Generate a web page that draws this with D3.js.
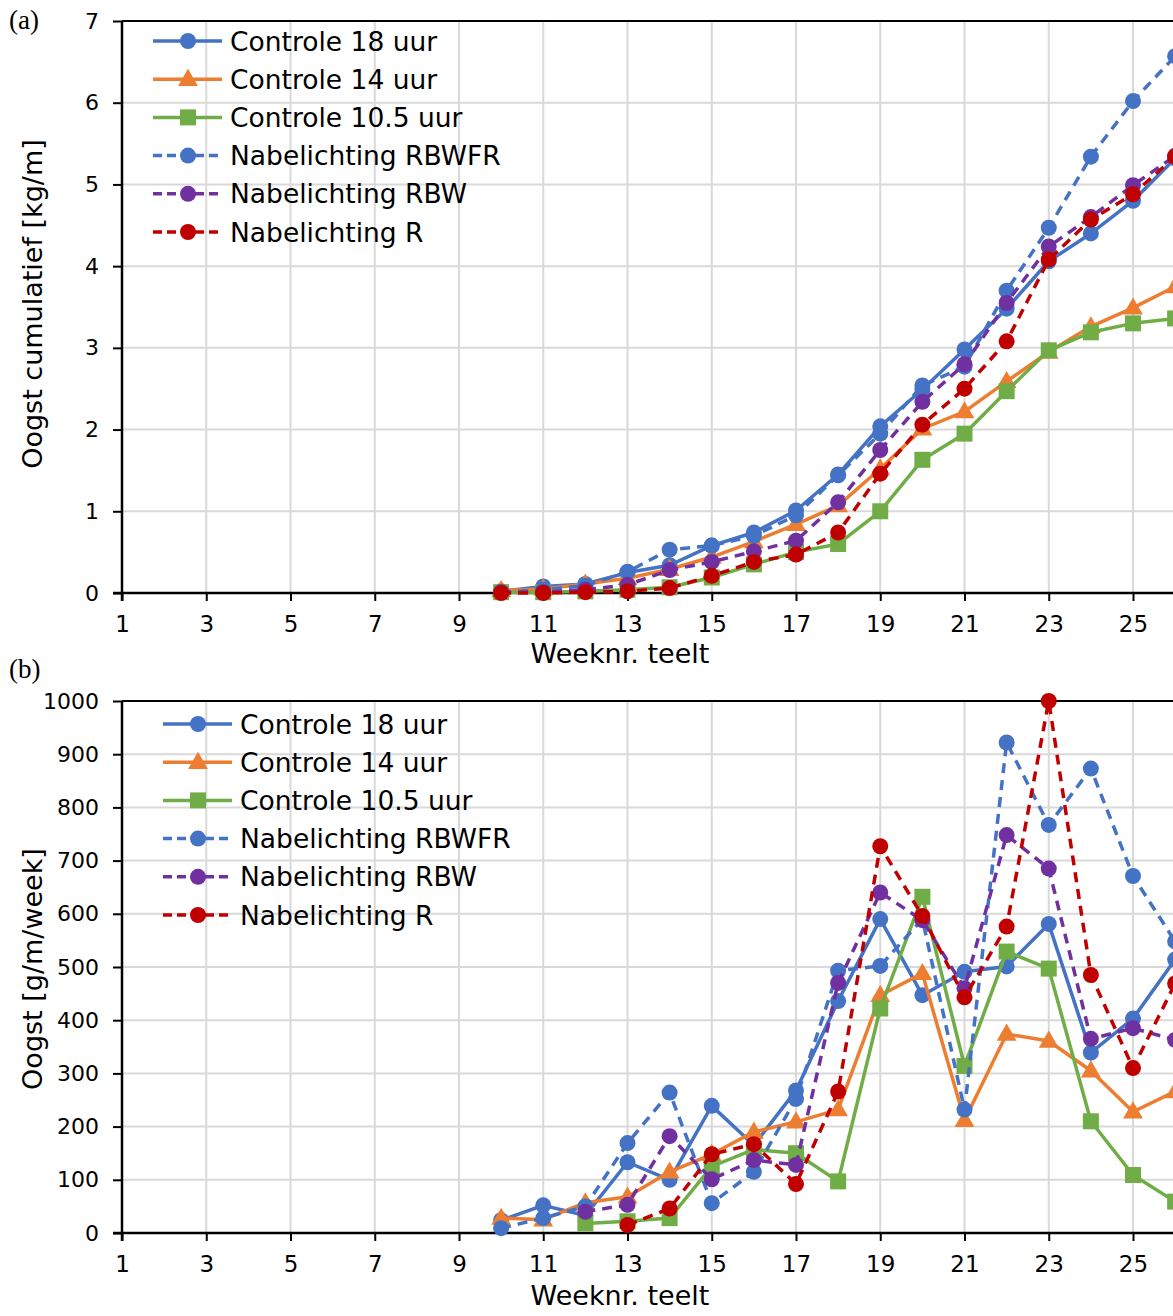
<!DOCTYPE html>
<html>
<head>
<meta charset="utf-8">
<script src="https://cdn.jsdelivr.net/npm/d3@7"></script>
<style>
  html, body { margin: 0; padding: 0; background: #fff; overflow: hidden; }
  svg { display: block; }
  text { font-family: "DejaVu Sans", Verdana, sans-serif; fill: #000; }
</style>
</head>
<body>
<svg id="chart" width="1173" height="1316"></svg>
<script>
// Week numbers of the crop
const weeks = [10, 11, 12, 13, 14, 15, 16, 17, 18, 19, 20, 21, 22, 23, 24, 25, 26];
const xTicks = [1, 3, 5, 7, 9, 11, 13, 15, 17, 19, 21, 23, 25];

const seriesNames = ["Controle 18 uur", "Controle 14 uur", "Controle 10.5 uur",
                     "Nabelichting RBWFR", "Nabelichting RBW", "Nabelichting R"];

// (a) cumulative harvest [kg/m]
const cumC18    = [0.02, 0.08, 0.11, 0.25, 0.34, 0.58, 0.74, 1.01, 1.45, 2.04, 2.49, 2.98, 3.48, 4.06, 4.40, 4.80, 5.32];
const cumC14    = [0.03, 0.05, 0.11, 0.18, 0.29, 0.44, 0.63, 0.84, 1.07, 1.52, 2.01, 2.22, 2.59, 2.95, 3.26, 3.49, 3.75];
const cumC105   = [0.01, 0.01, 0.02, 0.04, 0.07, 0.19, 0.35, 0.50, 0.60, 1.00, 1.63, 1.95, 2.47, 2.97, 3.19, 3.30, 3.36];
const cumRBWFR  = [0.01, 0.04, 0.09, 0.26, 0.53, 0.58, 0.70, 0.95, 1.44, 1.95, 2.54, 2.77, 3.70, 4.47, 5.34, 6.02, 6.57];
const cumRBW    = [0.01, 0.01, 0.04, 0.10, 0.28, 0.38, 0.51, 0.64, 1.11, 1.75, 2.34, 2.80, 3.55, 4.24, 4.60, 4.99, 5.35];
const cumR      = [0.00, 0.00, 0.01, 0.02, 0.06, 0.21, 0.38, 0.47, 0.74, 1.46, 2.06, 2.50, 3.08, 4.08, 4.57, 4.88, 5.34];

// (b) weekly harvest [g/m/week]; null = no harvest recorded
const wkC18   = [24, 52, 33, 133, 100, 239, 165, 268, 436, 590, 447, 491, 501, 581, 339, 403, 514];
const wkC14   = [28, 25, 57, 68, 115, 148, 190, 209, 232, 447, 488, 212, 374, 361, 305, 228, 266];
const wkC105  = [null, null, 18, 22, 28, 125, 157, 150, 97, 422, 632, 314, 529, 497, 210, 109, 59];
const wkRBWFR = [9, 28, 50, 169, 264, 56, 115, 252, 493, 502, 590, 232, 922, 767, 873, 671, 548];
const wkRBW   = [null, null, 40, 53, 182, 101, 137, 128, 470, 640, 588, 460, 748, 685, 365, 385, 363];
const wkR     = [null, null, null, 15, 46, 148, 167, 92, 266, 727, 596, 443, 576, 1000, 485, 310, 469];

const yTicksA = [0, 1, 2, 3, 4, 5, 6, 7];
const yTicksB = [0, 100, 200, 300, 400, 500, 600, 700, 800, 900, 1000];

// Series styling: colour, marker shape, dashed or solid
const styles = [
  { color: "#4472C4", marker: "circle",   dash: null },
  { color: "#ED7D31", marker: "triangle", dash: null },
  { color: "#70AD47", marker: "square",   dash: null },
  { color: "#4472C4", marker: "circle",   dash: "10,7" },
  { color: "#7030A0", marker: "circle",   dash: "10,7" },
  { color: "#C00000", marker: "circle",   dash: "10,7" }
];

const svg = d3.select("#chart");

function drawMarker(g, shape, color, cx, cy) {
  if (shape === "circle") {
    g.append("circle").attr("cx", cx).attr("cy", cy).attr("r", 8).attr("fill", color);
  } else if (shape === "square") {
    g.append("rect").attr("x", cx - 8).attr("y", cy - 8).attr("width", 16).attr("height", 16).attr("fill", color);
  } else {
    g.append("path")
      .attr("d", d3.symbol().type(d3.symbolTriangle).size(170)())
      .attr("transform", `translate(${cx},${cy + 1})`)
      .attr("fill", color);
  }
}

function panel(opts) {
  const { top, bottom, yDomain, yTicks, data, yTitle, panelLabel, legendX, legendY, xTitleY, yTitleY, labelY } = opts;
  const left = 122;
  const x = d3.scaleLinear().domain([1, 27]).range([left, left + 26 * 42.125]);
  const y = d3.scaleLinear().domain(yDomain).range([bottom, top]);
  const g = svg.append("g");

  // gridlines
  g.append("g").selectAll("line").data(yTicks.slice(1)).join("line")
    .attr("x1", left).attr("x2", 1300).attr("y1", d => y(d)).attr("y2", d => y(d))
    .attr("stroke", "#d9d9d9").attr("stroke-width", 2);
  g.append("g").selectAll("line").data(xTicks.slice(1)).join("line")
    .attr("x1", d => x(d)).attr("x2", d => x(d)).attr("y1", top).attr("y2", bottom)
    .attr("stroke", "#d9d9d9").attr("stroke-width", 2);

  // frame top edge
  g.append("line").attr("x1", left).attr("x2", 1300).attr("y1", top).attr("y2", top)
    .attr("stroke", "#000").attr("stroke-width", 2);

  // axes
  const xAxis = d3.axisBottom(x).tickValues(xTicks).tickSize(8).tickPadding(15).tickFormat(d3.format("d"));
  const gx = g.append("g").attr("transform", `translate(0,${bottom})`).call(xAxis);
  gx.select(".domain").attr("stroke-width", 2.5).attr("d", `M${left - 9},0H1300`);
  gx.selectAll(".tick line").attr("stroke-width", 2);
  gx.selectAll(".tick text").style("font-size", "23px").attr("fill", "#000");

  const yAxis = d3.axisLeft(y).tickValues(yTicks).tickSize(9).tickPadding(14).tickFormat(d3.format("d"));
  const gy = g.append("g").attr("transform", `translate(${left},0)`).call(yAxis);
  gy.select(".domain").attr("stroke-width", 2.5).attr("d", `M0,${top}V${bottom + 8}`);
  gy.selectAll(".tick line").attr("stroke-width", 2);
  gy.selectAll(".tick text").style("font-size", "22px").attr("fill", "#000");

  // series
  const line = d3.line()
    .defined(d => d.v !== null)
    .x(d => x(d.w)).y(d => y(d.v));
  data.forEach((vals, i) => {
    const st = styles[i];
    const pts = weeks.map((w, k) => ({ w, v: vals[k] }));
    const sg = g.append("g");
    sg.append("path").datum(pts).attr("d", line)
      .attr("fill", "none").attr("stroke", st.color).attr("stroke-width", 3.5)
      .attr("stroke-linejoin", "round")
      .attr("stroke-dasharray", st.dash);
    pts.filter(d => d.v !== null).forEach(d => drawMarker(sg, st.marker, st.color, x(d.w), y(d.v)));
  });

  // legend
  const lg = g.append("g");
  seriesNames.forEach((name, i) => {
    const st = styles[i];
    const ly = legendY + i * 38.2;
    lg.append("line").attr("x1", legendX).attr("x2", legendX + 69).attr("y1", ly).attr("y2", ly)
      .attr("stroke", st.color).attr("stroke-width", 3.5).attr("stroke-dasharray", st.dash ? "9,5" : null);
    drawMarker(lg, st.marker, st.color, legendX + 35, ly);
    lg.append("text").attr("x", legendX + 77).attr("y", ly).attr("dy", "0.36em")
      .style("font-size", "26.5px").text(name);
  });

  // titles
  g.append("text").attr("x", 620).attr("y", xTitleY).attr("dy", "0.35em").attr("text-anchor", "middle")
    .style("font-size", "27px").text("Weeknr. teelt");
  g.append("text")
    .attr("transform", `translate(33,${yTitleY}) rotate(-90)`)
    .attr("dy", "0.35em")
    .attr("text-anchor", "middle").style("font-size", "27px").text(yTitle);
  g.append("text").attr("x", 9).attr("y", labelY)
    .style("font-family", "'Liberation Serif', 'DejaVu Serif', serif")
    .style("font-size", "27px").text(panelLabel);
}

panel({
  top: 21, bottom: 593, yDomain: [0, 7], yTicks: yTicksA,
  data: [cumC18, cumC14, cumC105, cumRBWFR, cumRBW, cumR],
  yTitle: "Oogst cumulatief [kg/m]", panelLabel: "(a)",
  legendX: 153, legendY: 41, xTitleY: 654, yTitleY: 304, labelY: 29
});
panel({
  top: 701, bottom: 1233, yDomain: [0, 1000], yTicks: yTicksB,
  data: [wkC18, wkC14, wkC105, wkRBWFR, wkRBW, wkR],
  yTitle: "Oogst [g/m/week]", panelLabel: "(b)",
  legendX: 163, legendY: 724, xTitleY: 1296, yTitleY: 969, labelY: 678
});
</script>
</body>
</html>
